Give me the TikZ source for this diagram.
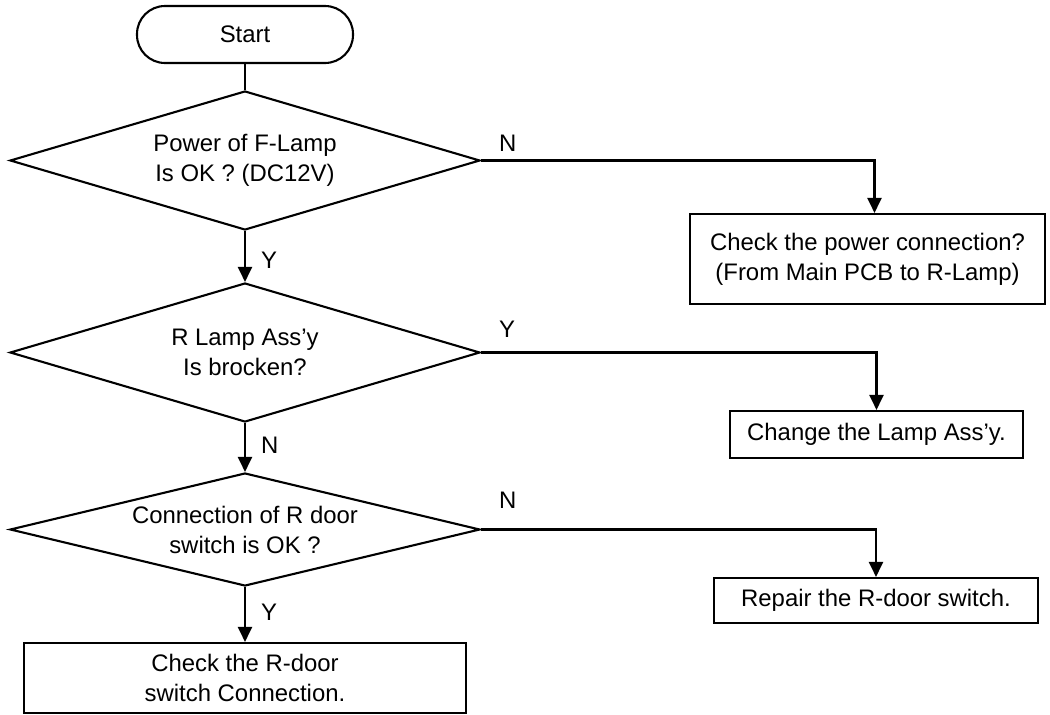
\documentclass[tikz,border=0pt]{standalone}
\usepackage{fontspec}
\setmainfont{Liberation Sans}
\usetikzlibrary{shapes.geometric,arrows.meta}
\begin{document}
\begin{tikzpicture}[x=1pt,y=-1pt,
  every node/.style={font=\fontsize{23.9}{30}\selectfont},
  line/.style={line width=2.1pt},
  arr/.style={line, -{Triangle[width=14pt,length=15pt]}},
  decision/.style={draw, line width=2.1pt, shape=diamond, inner sep=0pt, align=center},
  procbox/.style={draw, line width=2.1pt, rectangle, inner sep=0pt, align=center},
  lbl/.style={anchor=west, inner sep=0pt}]
\useasboundingbox (0,0) rectangle (1050,715);

% terminal and decisions down the main column
\node[procbox, rounded corners=28pt, minimum width=216pt, minimum height=57pt] (start) at (245,34.5) {Start};
\node[decision, aspect=3.38, minimum width=470pt, minimum height=139pt] (d1) at (245,160.5)
  {Power of F-Lamp\\Is OK ? (DC12V)};
\node[decision, aspect=3.38, minimum width=470pt, minimum height=139pt] (d2) at (245,352.5)
  {R Lamp Ass’y\\Is brocken?};
\node[decision, aspect=4.16, minimum width=470pt, minimum height=113pt] (d3) at (245,529.5)
  {Connection of R door\\switch is OK ?};
\node[procbox, minimum width=442pt, minimum height=70pt] (b4) at (245,678)
  {Check the R-door\\switch Connection.};

% actions on the right
\node[procbox, minimum width=355pt, minimum height=90pt] (b1) at (867.5,259)
  {Check the power connection?\\(From Main PCB to R-Lamp)};
\node[procbox, minimum width=293pt, minimum height=47pt] (b2) at (876.5,434.5)
  {Change the Lamp Ass’y.};
\node[procbox, minimum width=324pt, minimum height=45pt] (b3) at (876,600.5)
  {Repair the R-door switch.};

% connectors
\draw[line] (start) -- (d1);
\draw[arr] (d1) -- (d2);
\draw[arr] (d2) -- (d3);
\draw[arr] (d3) -- (b4);
\draw[arr] (d1.east) -| ([xshift=7pt]b1.north);
\draw[arr] (d2.east) -| (b2.north);
\draw[arr] (d3.east) -| (b3.north);

% branch labels
\node[lbl] (l1) at (499,143) {N};
\node[lbl] (l2) at (261,260) {Y};
\node[lbl] (l3) at (499,329) {Y};
\node[lbl] (l4) at (261,445) {N};
\node[lbl] (l5) at (499,500) {N};
\node[lbl] (l6) at (261,612) {Y};
\end{tikzpicture}
\end{document}
